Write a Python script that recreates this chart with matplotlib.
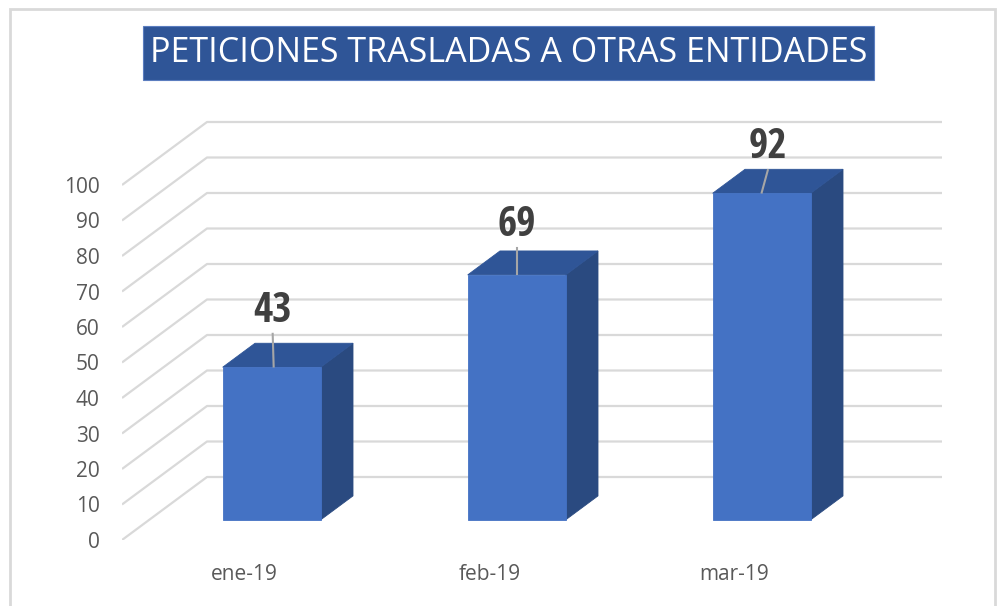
import matplotlib.pyplot as plt
from matplotlib.patches import Polygon, Rectangle

months = ['ene-19', 'feb-19', 'mar-19']
peticiones = [43, 69, 92]
y_ticks = list(range(0, 101, 10))
title = 'PETICIONES TRASLADAS A OTRAS ENTIDADES'

# fake 3d look (oblique projection, like the excel 3d column)
DX = 85 / 245      # full depth shift, category units
DY = 63 / 3.55     # full depth shift, value units
BAR_W = 0.4
D0, D1 = 0.32, 0.70
label_lift = [15.8, 14.0, 12.9]
label_dx = [0.004, 0.0, 0.025]
leader_dx = [0.008, 0.0, -0.0]

FRONT = '#4472C4'
TOP = '#2F5597'
SIDE = '#2A4A80'
GRID = '#D9D9D9'
TXT = '#595959'


def proj(x, v, d):
    return x + d * DX, v + d * DY


def draw_bar(ax, i, v):
    l, r = i - BAR_W / 2, i + BAR_W / 2
    front = [proj(l, 0, D0), proj(r, 0, D0), proj(r, v, D0), proj(l, v, D0)]
    top = [proj(l, v, D0), proj(r, v, D0), proj(r, v, D1), proj(l, v, D1)]
    side = [proj(r, 0, D0), proj(r, 0, D1), proj(r, v, D1), proj(r, v, D0)]
    for pts, c in [(side, SIDE), (top, TOP), (front, FRONT)]:
        ax.add_patch(Polygon(pts, closed=True, facecolor=c, edgecolor=c,
                             linewidth=0.6, zorder=3))


fig = plt.figure(figsize=(10, 6.06), dpi=100)
ax = fig.add_axes([0.122, 66 / 606, 0.833, 125 * 3.55 / 606])
ax.set_xlim(-0.5, 2.9)
ax.set_ylim(0, 125)
ax.patch.set_visible(False)
for s in ax.spines.values():
    s.set_visible(False)

x0, x1 = -0.5, len(months) - 0.5
for t in y_ticks:
    a = proj(x0, t, 0)
    b = proj(x0, t, 1)
    c = proj(x1, t, 1)
    ax.plot([a[0], b[0], c[0]], [a[1], b[1], c[1]], color=GRID, lw=1.6,
            zorder=1, solid_capstyle='butt')

for i, v in enumerate(peticiones):
    draw_bar(ax, i, v)
    cx, top_v = proj(i, v, D0)
    lx, ly = cx + label_dx[i], top_v + label_lift[i]
    ax.text(lx, ly, str(v), ha='center', va='center',
            fontsize=30, fontweight='bold', color='#404040',
            family=['Open Sans Condensed', 'DejaVu Sans'], zorder=5)
    ax.plot([lx, cx + leader_dx[i]], [ly - 6.4, top_v + 0.2],
            color='#A6A6A6', lw=1.5, zorder=4)

ax.set_yticks(y_ticks)
ax.set_xticks(range(len(months)), months)
ax.tick_params(axis='both', length=0, labelsize=15, labelcolor=TXT)
ax.tick_params(axis='y', pad=16)
ax.tick_params(axis='x', pad=17)
for lab in ax.get_xticklabels() + ax.get_yticklabels():
    lab.set_family(['Open Sans', 'DejaVu Sans'])

# title box and outer border
fig.add_artist(Rectangle((0.143, 1 - 80 / 606), 0.731, 54 / 606,
                         transform=fig.transFigure, facecolor=TOP,
                         edgecolor='#5B7DBF', lw=0.8))
fig.text(0.5085, 1 - 53 / 606, title, ha='center', va='center', color='white',
         fontsize=24.5, family=['Open Sans', 'DejaVu Sans'])
fig.add_artist(Rectangle((0.01, -0.02), 0.985, 1.005, transform=fig.transFigure,
                         fill=False, edgecolor=GRID, lw=2))

fig.savefig('out.png', dpi=100)
